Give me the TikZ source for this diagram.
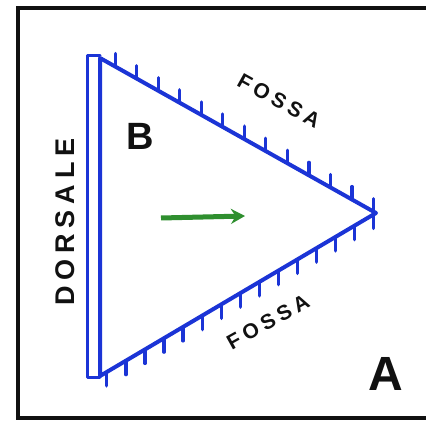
\documentclass[tikz,border=0pt]{standalone}
\usepackage{fontspec}
\setmainfont{Liberation Sans}
\newfontfamily\handfont{Liberation Sans}[LetterSpace=22]
\usepackage{tikz}
\usetikzlibrary{calc,arrows.meta,positioning}
\definecolor{penb}{HTML}{1B34D6}
\definecolor{peng}{HTML}{2F8F2F}
\definecolor{penk}{HTML}{111111}
\tikzset{
  edge/.style={penb,line width=4pt,line join=round,line cap=round},
  dors/.style={penb,line width=3pt,line cap=round,line join=round},
  tick/.style={penb,line width=3.2pt,line cap=round},
  lab/.style={penk,font=\handfont\bfseries,inner sep=0pt}
}
\begin{document}
\begin{tikzpicture}[x=1pt,y=-1pt]
\useasboundingbox (0,0) rectangle (426,425);
\fill[white] (0,0) rectangle (426,425);
% frame
\draw[penk,line width=4pt] (426,8) -- (18,8) -- (18,418) -- (426,418);
% triangle
\coordinate (tl) at (100,58);
\coordinate (bl) at (100,376);
\coordinate (tip) at (376,213);
\draw[edge] (bl) -- (tl) -- (tip) -- cycle;
\draw[dors] (100,56) -- (87,56) -- (87,377) -- (100,377);
% ticks of the fossa edges
\foreach \k in {0,...,12}
  \draw[tick] ($(tl)!{0.055+0.078*\k}!(tip)$) -- ++(0,-13);
\foreach \k in {0,...,14}
  \draw[tick] ($(bl)!{0.025+0.069*\k}!(tip)$) -- ++(0,14);
% labels
\node[lab,font=\handfont\bfseries\fontsize{21}{21}\selectfont,rotate=-29] (fossaup) at (279,101) {FOSSA};
\node[lab,font=\handfont\bfseries\fontsize{21}{21}\selectfont,rotate=29] (fossadn) at (268,322) {FOSSA};
\node[lab,font=\handfont\bfseries\fontsize{27}{27}\selectfont,rotate=90] (dorsale) at (65,222) {DORSALE};
\node[lab,font=\bfseries\fontsize{38}{38}\selectfont] (regb) at (140,136) {B};
\node[lab,font=\bfseries\fontsize{48}{48}\selectfont] (rega) at (386,374) {A};
% direction
\coordinate (arra) at (161,218);
\coordinate (arrb) at (245,216);
\draw[peng,line width=5pt,-{Stealth[length=14pt,width=15pt]}] (arra) -- (arrb);
\end{tikzpicture}
\end{document}
